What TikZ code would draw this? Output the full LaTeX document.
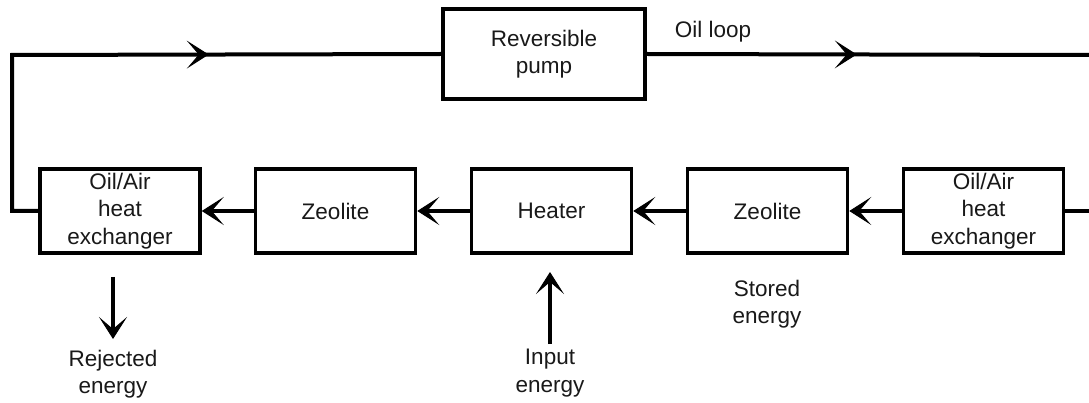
\documentclass[tikz,border=0pt]{standalone}
\usepackage{fontspec}
\setmainfont{Liberation Sans}
\usetikzlibrary{arrows.meta,decorations.markings}
\begin{document}
\begin{tikzpicture}[x=1pt,y=-1pt,
  txt/.style={font=\fontsize{22.5}{27.5}\selectfont, text=black!90},
  box/.style={draw, line width=3.5pt, minimum width=160pt, minimum height=84pt, align=center, inner sep=0pt, txt},
  lbl/.style={align=center, inner sep=0pt, txt},
  conn/.style={line width=4pt, line join=miter},
  ahead/.tip={Stealth[length=22pt,width=28pt,inset=12pt,line width=1pt]},
  tip/.style={-{ahead}},
  markat/.style={postaction={decorate}, decoration={markings, mark=at position #1 with {\arrow{ahead}}}}
]
\useasboundingbox (0,0) rectangle (1089,403);
\fill[white] (0,0) rectangle (1089,403);

\node[box, minimum width=202pt, minimum height=90pt] (pump) at (544,54) {Reversible\\pump};
\node[box] (hx1) at (120,211) {Oil/Air\\heat\\exchanger};
\node[box] (zeo1) at (335.5,211) {Zeolite};
\node[box] (heater) at (551.5,211) {Heater};
\node[box] (zeo2) at (767.5,211) {Zeolite};
\node[box] (hx2) at (983.5,211) {Oil/Air\\heat\\exchanger};

\node[lbl] (oil) at (713,32) {Oil loop};
\node[lbl] (stored) at (767,304) {Stored\\energy};
\node[lbl] (rej) at (113,374) {Rejected\\energy};
\node[lbl] (inp) at (550,373) {Input\\energy};

\coordinate (tl) at (12,55);
\coordinate (bl) at (12,211);
\coordinate (tr) at (1089,55);
\coordinate (br) at (1089,211);

\draw[conn, markat=379pt] (hx1.west) -- (bl) -- (tl) -- (pump.west);
\draw[conn, markat=210pt] (pump.east) -- (tr);
\draw[conn] (br) -- (hx2.east);
\draw[conn, tip] (hx2.west) -- (zeo2.east);
\draw[conn, tip] (zeo2.west) -- (heater.east);
\draw[conn, tip] (heater.west) -- (zeo1.east);
\draw[conn, tip] (zeo1.west) -- (hx1.east);

\coordinate (r1) at (113,277);
\coordinate (r2) at (113,339);
\draw[conn, tip] (r1) -- (r2);
\coordinate (i1) at (550,344);
\coordinate (i2) at (550,272);
\draw[conn, tip] (i1) -- (i2);
\end{tikzpicture}
\end{document}
